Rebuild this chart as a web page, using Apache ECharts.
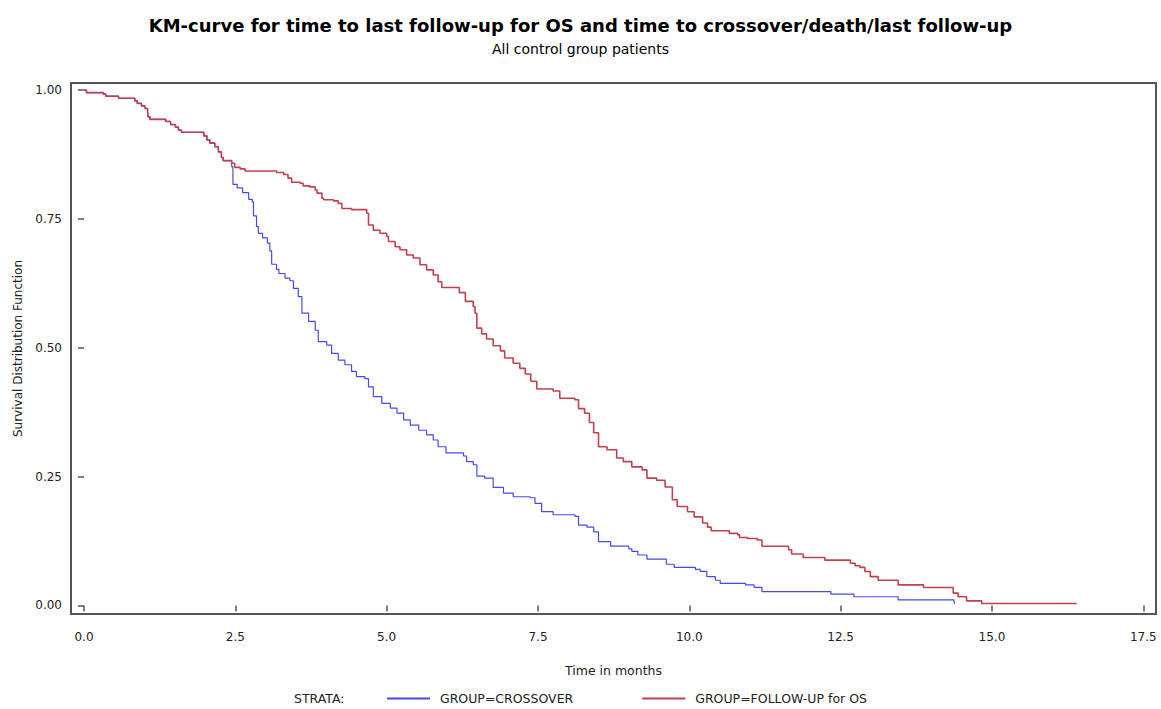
<!DOCTYPE html>
<html>
<head>
<meta charset="utf-8">
<script src="https://cdn.jsdelivr.net/npm/echarts@6/dist/echarts.min.js"></script>
<style>
html,body{margin:0;padding:0;background:#fff;}
#chart{width:1161px;height:709px;}
</style>
</head>
<body>
<div id="chart"></div>
<script>
// ---- data ----
var titleText = 'KM-curve for time to last follow-up for OS and time to crossover/death/last follow-up';
var subtitleText = 'All control group patients';
var xAxisName = 'Time in months';
var yAxisName = 'Survival Distribution Function';
var strataLabel = 'STRATA:';
var seriesNames = ['GROUP=CROSSOVER', 'GROUP=FOLLOW-UP for OS'];
var xTicks = [0, 2.5, 5, 7.5, 10, 12.5, 15, 17.5];
var yTicks = [0, 0.25, 0.5, 0.75, 1];

// [time (months), survival] – value after the step at that time
var followupOS = [
  [0,1.0],[0.04,0.995],[0.32,0.992],[0.36,0.988],[0.57,0.984],[0.84,0.979],[0.88,0.974],
  [0.95,0.969],[1.01,0.964],[1.05,0.958],[1.06,0.948],[1.09,0.943],[1.35,0.939],[1.43,0.933],
  [1.51,0.928],[1.56,0.922],[1.61,0.918],[1.98,0.911],[2.03,0.903],[2.08,0.897],[2.16,0.890],
  [2.22,0.880],[2.27,0.869],[2.30,0.863],[2.44,0.858],[2.49,0.850],[2.58,0.847],[2.66,0.843],
  [3.18,0.840],[3.30,0.836],[3.37,0.829],[3.43,0.821],[3.57,0.819],[3.62,0.814],[3.73,0.812],
  [3.82,0.806],[3.85,0.800],[3.93,0.790],[3.96,0.787],[4.12,0.785],[4.20,0.780],[4.26,0.770],
  [4.42,0.768],[4.67,0.761],[4.70,0.738],[4.78,0.728],[4.89,0.722],[5.00,0.716],[5.03,0.706],
  [5.14,0.696],[5.22,0.690],[5.33,0.680],[5.44,0.674],[5.55,0.661],[5.66,0.651],[5.77,0.641],
  [5.85,0.628],[5.91,0.617],[6.20,0.607],[6.30,0.590],[6.43,0.580],[6.46,0.567],[6.49,0.538],
  [6.57,0.527],[6.65,0.517],[6.76,0.504],[6.88,0.494],[6.95,0.480],[7.09,0.470],[7.20,0.460],
  [7.29,0.449],[7.38,0.435],[7.48,0.420],[7.75,0.416],[7.86,0.402],[8.11,0.399],[8.17,0.382],
  [8.27,0.373],[8.35,0.355],[8.42,0.335],[8.50,0.308],[8.64,0.302],[8.80,0.286],[8.91,0.279],
  [9.05,0.269],[9.22,0.263],[9.30,0.247],[9.46,0.243],[9.60,0.230],[9.72,0.205],[9.80,0.192],
  [9.97,0.182],[10.08,0.172],[10.22,0.160],[10.30,0.152],[10.36,0.145],[10.66,0.140],
  [10.80,0.137],[10.83,0.132],[10.96,0.130],[11.12,0.127],[11.20,0.115],[11.64,0.108],
  [11.69,0.100],[11.88,0.093],[12.24,0.088],[12.66,0.082],[12.74,0.077],[12.82,0.074],
  [12.90,0.066],[12.99,0.056],[13.12,0.049],[13.45,0.040],[13.87,0.035],[14.36,0.024],
  [14.44,0.017],[14.58,0.009],[14.83,0.004],[16.40,0.004]
];

var crossover = [
  [0,1.0],[0.04,0.995],[0.32,0.992],[0.36,0.988],[0.57,0.984],[0.84,0.979],[0.88,0.974],
  [0.95,0.969],[1.01,0.964],[1.05,0.958],[1.06,0.948],[1.09,0.943],[1.35,0.939],[1.43,0.933],
  [1.51,0.928],[1.56,0.922],[1.61,0.918],[1.98,0.911],[2.03,0.903],[2.08,0.897],[2.16,0.890],
  [2.22,0.880],[2.27,0.869],[2.30,0.863],[2.44,0.851],[2.46,0.817],[2.53,0.810],[2.62,0.801],
  [2.72,0.788],[2.78,0.783],[2.80,0.756],[2.85,0.735],[2.88,0.722],[2.95,0.713],[3.03,0.703],
  [3.07,0.688],[3.10,0.662],[3.18,0.652],[3.22,0.644],[3.32,0.635],[3.40,0.630],[3.46,0.615],
  [3.54,0.599],[3.60,0.567],[3.71,0.551],[3.82,0.534],[3.87,0.512],[4.01,0.505],[4.09,0.489],
  [4.20,0.476],[4.31,0.467],[4.42,0.454],[4.50,0.444],[4.64,0.440],[4.70,0.424],[4.78,0.405],
  [4.92,0.392],[5.06,0.383],[5.17,0.373],[5.28,0.360],[5.39,0.350],[5.53,0.340],[5.66,0.331],
  [5.77,0.321],[5.85,0.308],[5.98,0.296],[6.27,0.290],[6.32,0.279],[6.43,0.273],[6.49,0.251],
  [6.62,0.247],[6.76,0.229],[6.93,0.218],[7.09,0.211],[7.37,0.209],[7.45,0.198],[7.56,0.182],
  [7.75,0.176],[8.11,0.173],[8.17,0.156],[8.31,0.152],[8.42,0.143],[8.50,0.124],[8.70,0.115],
  [9.00,0.110],[9.05,0.105],[9.15,0.098],[9.30,0.090],[9.62,0.080],[9.75,0.074],[10.10,0.070],
  [10.18,0.066],[10.29,0.056],[10.43,0.049],[10.51,0.043],[10.93,0.040],[11.07,0.035],
  [11.20,0.027],[12.34,0.022],[12.72,0.017],[13.45,0.011],[14.37,0.011],[14.38,0.003]
];

// ---- chart ----
var FONT = 'DejaVu Sans';
var chart = echarts.init(document.getElementById('chart'), null, {renderer: 'svg'});
chart.setOption({
  animation: false,
  backgroundColor: '#ffffff',
  title: {
    text: titleText,
    subtext: subtitleText,
    left: 'center',
    top: 9,
    itemGap: 4,
    textStyle: {fontFamily: FONT, fontSize: 18, fontWeight: 'bold', color: '#000', lineHeight: 22},
    subtextStyle: {fontFamily: FONT, fontSize: 14, fontWeight: 'normal', color: '#000', lineHeight: 18}
  },
  graphic: [{
    type: 'text',
    left: 294,
    top: 692,
    style: {text: strataLabel, font: '12.5px "DejaVu Sans"', fill: '#222'}
  }],
  legend: {
    data: seriesNames,
    left: 387,
    top: 692,
    padding: 0,
    itemWidth: 43,
    itemHeight: 2,
    itemGap: 69,
    icon: 'rect',
    textStyle: {fontFamily: FONT, fontSize: 12.5, color: '#222', padding: [0, 0, 0, 5]}
  },
  grid: {
    left: 71, right: 5, top: 83, bottom: 95,
    show: true,
    borderColor: '#555',
    borderWidth: 2,
    containLabel: false
  },
  xAxis: {
    type: 'value',
    min: -0.215,
    max: 17.71,
    name: xAxisName,
    nameLocation: 'middle',
    nameGap: 50,
    nameTextStyle: {fontFamily: FONT, fontSize: 12.5, color: '#222'},
    axisLine: {show: false},
    axisTick: {show: true, length: 6, customValues: xTicks, lineStyle: {color: '#555', width: 1.5}},
    axisLabel: {
      customValues: xTicks,
      margin: 17,
      fontFamily: FONT, fontSize: 12, color: '#222',
      formatter: function (v) { return v.toFixed(1); }
    },
    splitLine: {show: false}
  },
  yAxis: {
    type: 'value',
    min: -0.0165,
    max: 1.0136,
    name: yAxisName,
    nameLocation: 'middle',
    nameGap: 47,
    nameRotate: 90,
    nameTextStyle: {fontFamily: FONT, fontSize: 12, color: '#222'},
    axisLine: {show: false},
    axisTick: {show: true, length: 6, customValues: yTicks, lineStyle: {color: '#555', width: 1.5}},
    axisLabel: {
      customValues: yTicks,
      margin: 9,
      fontFamily: FONT, fontSize: 12, color: '#222',
      formatter: function (v) { return v.toFixed(2); }
    },
    splitLine: {show: false}
  },
  series: [
    {
      name: seriesNames[0],
      type: 'line',
      step: 'end',
      data: crossover,
      symbol: 'none',
      z: 2,
      itemStyle: {color: '#4848ee'},
      lineStyle: {color: '#4848ee', width: 1.2}
    },
    {
      name: seriesNames[1],
      type: 'line',
      step: 'end',
      data: followupOS,
      symbol: 'none',
      z: 3,
      itemStyle: {color: '#c4404f'},
      lineStyle: {color: '#c4404f', width: 1.6}
    }
  ]
});
</script>
</body>
</html>
